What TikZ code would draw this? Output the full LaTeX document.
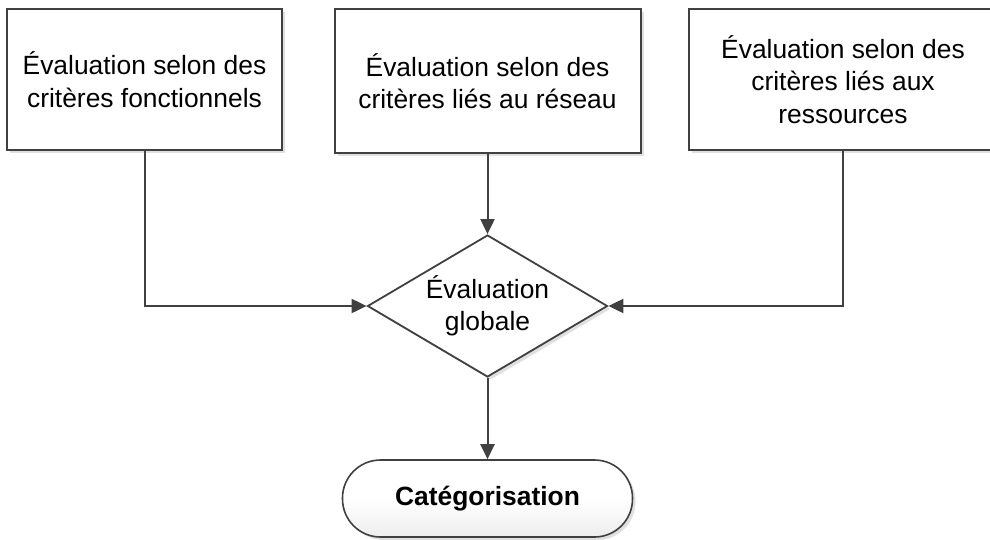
\documentclass[tikz,border=0pt]{standalone}
\usepackage{fontspec}
\setmainfont{Liberation Sans}
\usetikzlibrary{arrows.meta,shapes.geometric,shadows}
\definecolor{ln}{RGB}{64,64,64}
\begin{document}
\begin{tikzpicture}[x=1pt,y=-1pt,
  every node/.style={font=\fontsize{26.4}{32.5}\selectfont,text=black},
  shad/.style={drop shadow={shadow xshift=3pt,shadow yshift=-3pt,fill=black,opacity=0.12}},
  box/.style={draw=ln,line width=2pt,fill=white,align=center,inner sep=0pt,shad},
  decision/.style={shape=diamond,draw=ln,line width=1.8pt,fill=white,align=center,inner sep=0pt,aspect=1.69,minimum width=240pt,minimum height=142pt,shad},
  terminal/.style={draw=ln,line width=1.6pt,top color=white,bottom color=black!7,middle color=white,rounded corners=38pt,minimum width=290pt,minimum height=77pt,inner sep=0pt,font=\fontsize{26.4}{32.5}\selectfont\bfseries,shad},
  arr/.style={draw=ln,line width=2pt,-{Triangle[length=15pt,width=14pt]}}]
\useasboundingbox (0,0) rectangle (990,539);
\clip (0,0) rectangle (990,539);
\node[box,minimum width=275pt,minimum height=141pt] (b1) at (144.5,79.5) {Évaluation selon des\\critères fonctionnels};
\node[box,minimum width=306pt,minimum height=144pt] (b2) at (487.5,81) {Évaluation selon des\\critères liés au réseau};
\node[box,minimum width=308pt,minimum height=141pt] (b3) at (843,79.5) {Évaluation selon des\\critères liés aux\\ressources};
\node[decision] (dia) at (487.5,306) {Évaluation\\globale};
\node[terminal] (term) at (487.5,498.5) {Catégorisation};
\draw[arr] (b1.south) |- (dia.west);
\draw[arr] (b2.south) -- (dia.north);
\draw[arr] (b3.south) |- (dia.east);
\draw[arr] (dia.south) -- (term.north);
\end{tikzpicture}
\end{document}
